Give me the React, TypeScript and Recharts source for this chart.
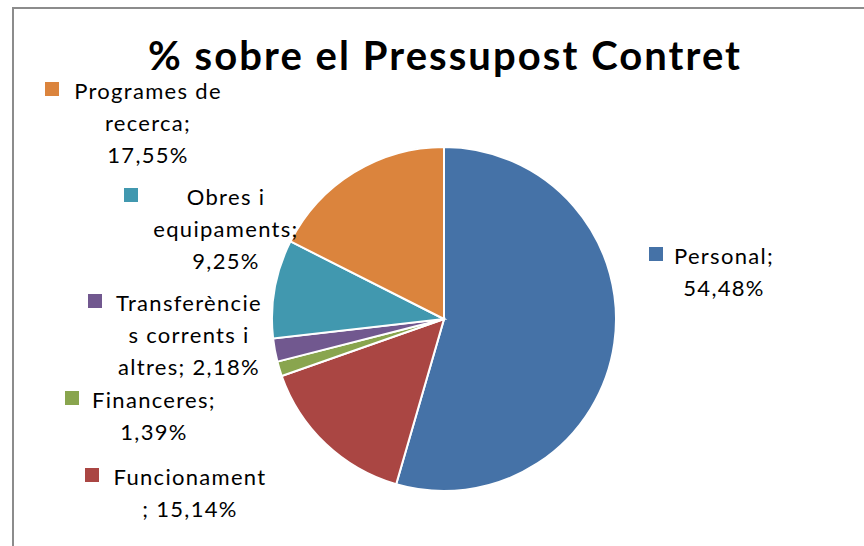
import React from 'react'
import { PieChart, Pie, Cell } from 'recharts'

const names = ['Personal', 'Funcionament', 'Financeres', 'Transferències corrents i altres', 'Obres i equipaments', 'Programes de recerca']
const values = [54.48, 15.14, 1.39, 2.18, 9.25, 17.55]
const colors = ['#4572A7', '#AA4643', '#89A54E', '#71588F', '#4198AF', '#DB843D']
// wrapped the way the original labels wrap
const labelLines = [
  ['Personal;', '54,48%'],
  ['Funcionament', '; 15,14%'],
  ['Financeres;', '1,39%'],
  ['Transferèncie', 's corrents i', 'altres; 2,18%'],
  ['Obres i', 'equipaments;', '9,25%'],
  ['Programes de', 'recerca;', '17,55%'],
]
// label placement relative to the pie centre: text centre x, first line y, marker x
const labelPos = [
  { dx: 280, dy: -64, mx: 205 },
  { dx: -254, dy: 157, mx: -359 },
  { dx: -290, dy: 80, mx: -379 },
  { dx: -255, dy: -17, mx: -356 },
  { dx: -218, dy: -123, mx: -320 },
  { dx: -296, dy: -229, mx: -399 },
]

const data = names.map((name, i) => ({ name, value: values[i] }))

const FONT = 'Lato, "Open Sans", sans-serif'

const renderLabel = (props: any) => {
  const { cx, cy, index } = props
  const p = labelPos[index]
  const lines = labelLines[index]
  return (
    <g key={'lbl' + index}>
      <rect x={cx + p.mx} y={cy + p.dy - 8} width={14} height={14} fill={colors[index]} />
      {lines.map((t, j) => (
        <text
          key={j}
          x={cx + p.dx}
          y={cy + p.dy + j * 32}
          textAnchor="middle"
          dominantBaseline="central"
          fontFamily={FONT}
          fontSize={22}
          letterSpacing={1.3}
          fill="#000"
        >
          {t}
        </text>
      ))}
    </g>
  )
}

const App = () => {
  return (
    <div style={{ position: 'absolute', left: 0, top: 0, width: 864, height: 546, background: '#fff', overflow: 'hidden' }}>
      <div style={{ position: 'absolute', left: 12, top: 7, width: 900, height: 600, borderLeft: '2px solid #8c8c8c', borderTop: '2px solid #8c8c8c' }} />
      <svg width={864} height={546} style={{ position: 'absolute', left: 0, top: 0 }}>
        <text x={148} y={70} textLength={592} lengthAdjust="spacing" fontFamily={FONT} fontWeight={700} fontSize={40} fill="#000">
          % sobre el Pressupost Contret
        </text>
      </svg>
      <div style={{ position: 'absolute', left: 0, top: 0 }}>
        <PieChart width={864} height={546} margin={{ top: 0, right: 0, bottom: 0, left: 0 }}>
          <Pie
            data={data}
            dataKey="value"
            nameKey="name"
            cx={444}
            cy={319}
            outerRadius={172}
            startAngle={90}
            endAngle={-270}
            stroke="#fff"
            strokeWidth={2}
            label={renderLabel}
            labelLine={false}
            isAnimationActive={false}
          >
            {data.map((d, i) => (
              <Cell key={d.name} fill={colors[i]} />
            ))}
          </Pie>
        </PieChart>
      </div>
    </div>
  )
}

export default App
